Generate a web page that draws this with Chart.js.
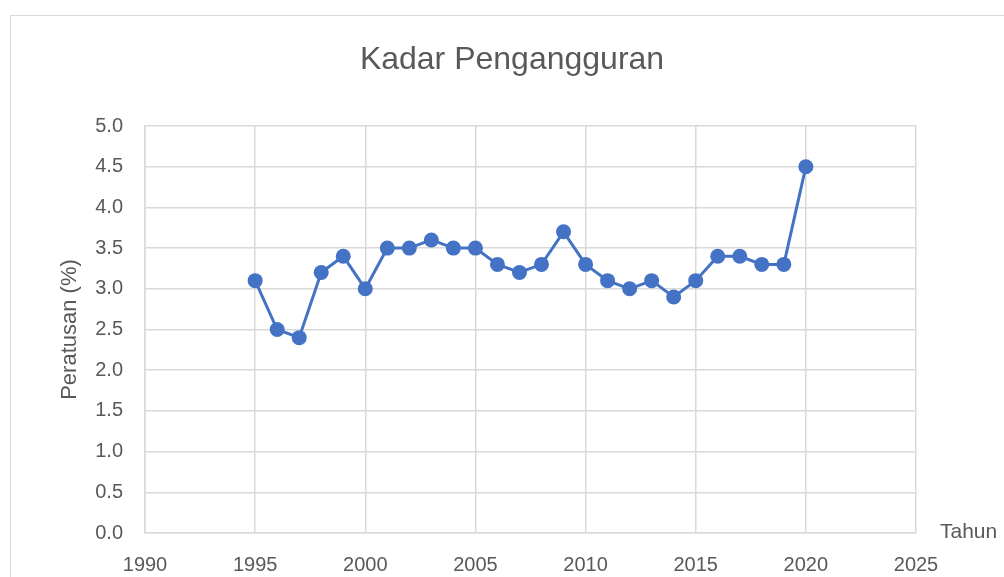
<!DOCTYPE html>
<html>
<head>
<meta charset="utf-8">
<script src="https://cdn.jsdelivr.net/npm/chart.js@4"></script>
<style>
  body { margin: 0; background: #fff; overflow: hidden; }
  #wrap { position: relative; width: 1004px; height: 577px; }
  #frame { position: absolute; left: 10px; top: 15px; width: 1100px; height: 700px; border: 1px solid #d9d9d9; }
  canvas { position: absolute; left: 0; top: 0; }
</style>
</head>
<body>
<div id="wrap">
  <div id="frame"></div>
  <canvas id="chart" width="1004" height="577"></canvas>
</div>
<script>
// Kadar pengangguran tahunan (%)
const tahun = [1995, 1996, 1997, 1998, 1999, 2000, 2001, 2002, 2003, 2004, 2005, 2006, 2007,
               2008, 2009, 2010, 2011, 2012, 2013, 2014, 2015, 2016, 2017, 2018, 2019, 2020];
const kadar = [3.1, 2.5, 2.4, 3.2, 3.4, 3.0, 3.5, 3.5, 3.6, 3.5, 3.5, 3.3, 3.2,
               3.3, 3.7, 3.3, 3.1, 3.0, 3.1, 2.9, 3.1, 3.4, 3.4, 3.3, 3.3, 4.5];

const tajuk = 'Kadar Pengangguran';
const labelX = 'Tahun';
const labelY = 'Peratusan (%)';

const fontName = '"Liberation Sans", Arial, sans-serif';
const teks = '#595959';
const biru = '#4472C4';
const grid = '#d9d9d9';

// label "Tahun" di hujung paksi x (macam Excel)
const tahunLabel = {
    id: 'tahunLabel',
    afterDraw(chart) {
        const ctx = chart.ctx;
        ctx.save();
        ctx.font = '21px ' + fontName;
        ctx.fillStyle = teks;
        ctx.textBaseline = 'alphabetic';
        ctx.fillText(labelX, chart.chartArea.right + 24, chart.chartArea.bottom + 5);
        ctx.restore();
    }
};

new Chart(document.getElementById('chart'), {
    type: 'scatter',
    data: {
        datasets: [{
            label: tajuk,
            data: tahun.map((t, i) => ({ x: t, y: kadar[i] })),
            showLine: true,
            borderColor: biru,
            backgroundColor: biru,
            borderWidth: 3,
            pointRadius: 7.5,
            pointHoverRadius: 7.5,
            pointBorderWidth: 0
        }]
    },
    options: {
        responsive: false,
        animation: false,
        layout: { padding: { left: 20, right: 0, top: 0, bottom: 0 } },
        plugins: {
            legend: { display: false },
            tooltip: { enabled: false },
            title: {
                display: true,
                text: tajuk,
                color: teks,
                font: { family: fontName, size: 32, weight: 'normal' },
                padding: { top: 41, bottom: 46.6 }
            }
        },
        scales: {
            x: {
                type: 'linear',
                min: 1990,
                max: 2025,
                afterFit: s => { s.height = 44; },
                grid: { color: grid, lineWidth: 1.5, drawTicks: false },
                border: { color: grid, width: 1.5 },
                ticks: {
                    stepSize: 5,
                    padding: 20,
                    color: teks,
                    font: { family: fontName, size: 20 },
                    callback: v => String(v)
                }
            },
            y: {
                min: 0,
                max: 5,
                afterFit: s => { s.width = 125; },
                grid: { color: grid, lineWidth: 1.5, drawTicks: false },
                border: { color: grid, width: 1.5 },
                ticks: {
                    stepSize: 0.5,
                    padding: 22,
                    color: teks,
                    font: { family: fontName, size: 20 },
                    callback: v => v.toFixed(1)
                },
                title: {
                    display: true,
                    text: labelY,
                    color: teks,
                    font: { family: fontName, size: 22 },
                    padding: { top: 37, bottom: 0 }
                }
            },
            // ruang kosong di kanan untuk label "Tahun"
            kanan: {
                type: 'linear',
                position: 'right',
                afterFit: s => { s.width = 88; },
                grid: { display: false },
                border: { display: false },
                ticks: { display: false }
            }
        }
    },
    plugins: [tahunLabel]
});
</script>
</body>
</html>
